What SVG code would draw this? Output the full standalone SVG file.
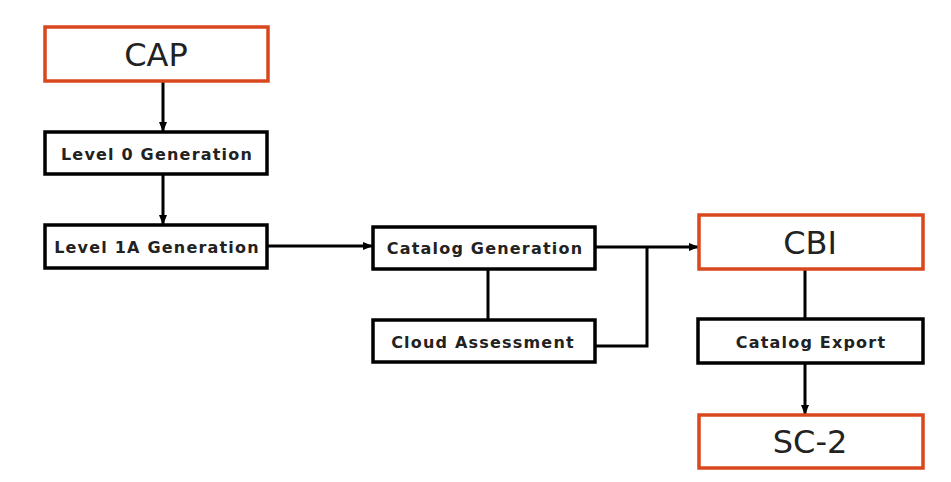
<svg xmlns="http://www.w3.org/2000/svg" width="951" height="482" viewBox="0 0 951 482">
<style>
.box{fill:#fff;stroke:#000;stroke-width:3.5}
.rbox{fill:#fff;stroke:#d9471e;stroke-width:3.5}
.t{font-family:"DejaVu Sans",Verdana,sans-serif;font-weight:bold;font-size:16px;letter-spacing:1.2px;fill:#222;text-anchor:middle;dominant-baseline:central}
.big{font-family:"DejaVu Sans",Verdana,sans-serif;font-size:32px;fill:#222;text-anchor:middle;dominant-baseline:central}
.ln{fill:none;stroke:#000;stroke-width:3}
</style>
<defs>
<marker id="ah" markerWidth="10" markerHeight="10" refX="9" refY="5" orient="auto" markerUnits="userSpaceOnUse">
<path d="M0,1 L10,5 L0,9 z" fill="#000"/>
</marker>
</defs>
<rect width="951" height="482" fill="#fff"/>
<g id="connectors">
<line class="ln" x1="163" y1="81" x2="163" y2="131" marker-end="url(#ah)"/>
<line class="ln" x1="163" y1="174" x2="163" y2="224" marker-end="url(#ah)"/>
<line class="ln" x1="268" y1="246" x2="372" y2="246" marker-end="url(#ah)"/>
<line class="ln" x1="488" y1="269" x2="488" y2="320"/>
<line class="ln" x1="595" y1="247" x2="698" y2="247" marker-end="url(#ah)"/>
<polyline class="ln" points="595,346 647,346 647,247"/>
<line class="ln" x1="805" y1="269" x2="805" y2="319"/>
<line class="ln" x1="805" y1="363" x2="805" y2="414" marker-end="url(#ah)"/>
</g>
<g id="cap"><rect class="rbox" x="45" y="27" width="223" height="54"/><text class="big" x="156" y="55">CAP</text></g>
<g id="level0"><rect class="box" x="45" y="132" width="222" height="42"/><text class="t" x="157" y="154">Level 0 Generation</text></g>
<g id="level1a"><rect class="box" x="45" y="225" width="222" height="43"/><text class="t" x="157" y="247">Level 1A Generation</text></g>
<g id="catalog"><rect class="box" x="373" y="227" width="222" height="42"/><text class="t" x="485" y="248">Catalog Generation</text></g>
<g id="cloud"><rect class="box" x="373" y="320" width="222" height="42"/><text class="t" x="483" y="342">Cloud Assessment</text></g>
<g id="cbi"><rect class="rbox" x="699" y="215" width="224" height="54"/><text class="big" x="810" y="243">CBI</text></g>
<g id="export"><rect class="box" x="698" y="319" width="225" height="44"/><text class="t" x="811" y="342">Catalog Export</text></g>
<g id="sc2"><rect class="rbox" x="699" y="415" width="224" height="53"/><text class="big" x="810" y="442">SC-2</text></g>
</svg>
